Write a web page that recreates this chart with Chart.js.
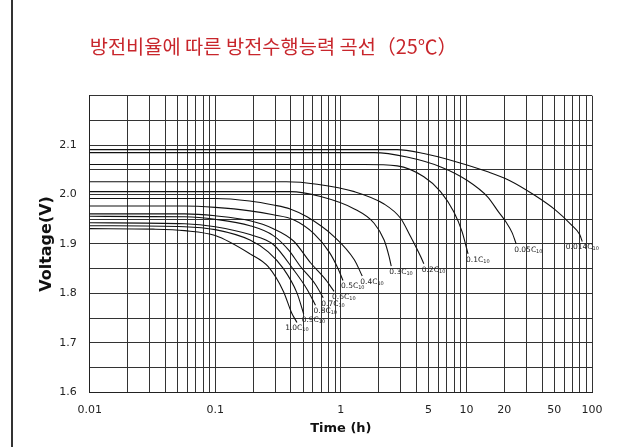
<!DOCTYPE html>
<html><head><meta charset="utf-8">
<script src="https://cdn.jsdelivr.net/npm/chart.js@4"></script>
<style>
html,body{margin:0;padding:0;background:#fff;width:626px;height:447px;overflow:hidden}
#wrap{position:relative;width:626px;height:447px}
#edge{position:absolute;left:11px;top:0;width:2px;height:447px;background:#333}
canvas{position:absolute;left:0;top:0}
</style></head>
<body><div id="wrap"><canvas id="c" width="626" height="447"></canvas><div id="edge"></div></div>
<script>
const chartTitle = '방전비율에 따른 방전수행능력 곡선（25℃）';
const xTitle = 'Time (h)';
const yTitle = 'Voltage(V)';

const xGridValues = [0.01,0.02,0.03,0.04,0.05,0.06,0.07,0.08,0.09,
  0.1,0.2,0.3,0.4,0.5,0.6,0.7,0.8,0.9,
  1,2,3,4,5,6,7,8,9,
  10,20,30,40,50,60,70,80,90,100];
const xLabelValues = [0.01, 0.1, 1, 5, 10, 20, 50, 100];
const yGridValues = [1.6,1.65,1.7,1.75,1.8,1.85,1.9,1.95,2.0,2.05,2.1,2.15,2.2];
const yLabelValues = [1.6,1.7,1.8,1.9,2.0,2.1];

const rates = ['0.014','0.05','0.1','0.2','0.3','0.4','0.5','0.6','0.7','0.8','0.9','1.0'];

const t_0014 = [0.01, 2.8, 4.58, 8.37, 14.8, 21.8, 34.7, 51.0, 68.2, 79.8, 83.7];
const v_0014 = [2.091, 2.091, 2.083, 2.066, 2.046, 2.029, 1.999, 1.969, 1.939, 1.919, 1.905];
const t_005 = [0.01, 1.84, 3.36, 6.25, 10.1, 14.8, 18.0, 20.6, 23.1, 24.9];
const v_005 = [2.085, 2.085, 2.076, 2.056, 2.029, 1.995, 1.965, 1.945, 1.923, 1.900];
const t_01 = [0.01, 1.53, 2.81, 4.58, 6.22, 7.93, 9.23, 10.3];
const v_01 = [2.061, 2.061, 2.058, 2.036, 2.006, 1.965, 1.925, 1.880];
const t_02 = [0.01, 0.369, 0.647, 1.28, 2.21, 2.99, 3.59, 4.31, 4.58];
const v_02 = [2.026, 2.026, 2.021, 2.006, 1.981, 1.952, 1.915, 1.875, 1.860];
const t_03 = [0.01, 0.395, 0.69, 1.28, 1.84, 2.21, 2.42, 2.52];
const v_03 = [2.006, 2.006, 1.996, 1.971, 1.942, 1.908, 1.875, 1.855];
const t_04 = [0.01, 0.1, 0.188, 0.29, 0.395, 0.538, 0.883, 1.28, 1.48];
const v_04 = [1.992, 1.992, 1.987, 1.979, 1.971, 1.955, 1.915, 1.868, 1.835];
const t_05 = [0.01, 0.057, 0.1, 0.189, 0.29, 0.42, 0.61, 0.806, 0.951, 1.04];
const v_05 = [1.977, 1.977, 1.974, 1.967, 1.959, 1.949, 1.921, 1.884, 1.850, 1.826];
const t_06 = [0.01, 0.057, 0.1, 0.189, 0.29, 0.42, 0.573, 0.757, 0.883];
const v_06 = [1.961, 1.961, 1.957, 1.947, 1.931, 1.906, 1.862, 1.828, 1.804];
const t_07 = [0.01, 0.057, 0.1, 0.189, 0.29, 0.383, 0.475, 0.628, 0.724];
const v_07 = [1.956, 1.955, 1.950, 1.937, 1.917, 1.888, 1.855, 1.818, 1.791];
const t_08 = [0.01, 0.057, 0.1, 0.189, 0.29, 0.42, 0.539, 0.628];
const v_08 = [1.943, 1.941, 1.935, 1.919, 1.899, 1.848, 1.808, 1.776];
const t_09 = [0.01, 0.057, 0.1, 0.189, 0.264, 0.349, 0.447, 0.506];
const v_09 = [1.937, 1.935, 1.929, 1.908, 1.884, 1.850, 1.801, 1.758];
const t_10 = [0.01, 0.032, 0.057, 0.1, 0.189, 0.264, 0.349, 0.405, 0.447];
const v_10 = [1.931, 1.930, 1.927, 1.917, 1.880, 1.854, 1.804, 1.761, 1.741];

const seriesTimes = [t_0014, t_005, t_01, t_02, t_03, t_04, t_05, t_06, t_07, t_08, t_09, t_10];
const seriesVolts = [v_0014, v_005, v_01, v_02, v_03, v_04, v_05, v_06, v_07, v_08, v_09, v_10];

const near = (arr, v) => arr.some(a => Math.abs(a - v) < 1e-9);

const endLabels = {
  id: 'endLabels',
  afterDatasetsDraw(chart) {
    const ctx = chart.ctx;
    ctx.save();
    ctx.fillStyle = '#222';
    ctx.textBaseline = 'middle';
    chart.data.datasets.forEach((ds, i) => {
      const meta = chart.getDatasetMeta(i);
      const p = meta.data[meta.data.length - 1];
      const main = ds.label + 'C';
      ctx.font = '7.5px "DejaVu Sans"';
      const w1 = ctx.measureText(main).width;
      ctx.font = '5px "DejaVu Sans"';
      const w2 = ctx.measureText('10').width;
      let x = ds.labelAlign === 'center' ? p.x - (w1 + w2) / 2 : p.x - 2;
      const y = p.y + 6;
      ctx.font = '7.5px "DejaVu Sans"';
      ctx.textAlign = 'left';
      ctx.fillText(main, x, y);
      ctx.font = '5px "DejaVu Sans"';
      ctx.fillText('10', x + w1, y + 1.5);
    });
    ctx.restore();
  }
};

const datasets = rates.map((r, i) => ({
  label: r,
  data: seriesTimes[i].map((t, j) => ({ x: t, y: seriesVolts[i][j] })),
  borderColor: '#111',
  borderWidth: 1.1,
  pointRadius: 0,
  fill: false,
  cubicInterpolationMode: 'monotone',
  labelAlign: (i === 0 || i === rates.length - 1) ? 'center' : 'left'
}));

new Chart(document.getElementById('c'), {
  type: 'line',
  data: { datasets },
  plugins: [endLabels],
  options: {
    responsive: false,
    animation: false,
    devicePixelRatio: 1,
    layout: { padding: { left: 37, right: 34, top: 0, bottom: 11 } },
    plugins: {
      legend: { display: false },
      tooltip: { enabled: false },
      title: {
        display: true, text: chartTitle, align: 'start', fullSize: false,
        color: '#c8262c',
        font: { family: '"Noto Sans CJK KR"', size: 19.8, weight: 'normal' },
        padding: { top: 35, bottom: 37 }
      }
    },
    scales: {
      x: {
        type: 'logarithmic', min: 0.01, max: 100,
        afterBuildTicks: s => { s.ticks = xGridValues.map(v => ({ value: v })); },
        ticks: {
          autoSkip: false, maxRotation: 0, minRotation: 0, padding: 11,
          color: '#222', font: { family: '"DejaVu Sans"', size: 11 },
          callback: v => near(xLabelValues, v) ? String(v) : ''
        },
        grid: { color: '#333', lineWidth: 1, drawTicks: false },
        border: { color: '#222', width: 1 },
        title: { display: true, text: xTitle, color: '#111',
          font: { family: '"DejaVu Sans"', size: 13, weight: 'bold' }, padding: { top: -7, bottom: 0 } }
      },
      y: {
        type: 'linear', min: 1.6, max: 2.2,
        afterBuildTicks: s => { s.ticks = yGridValues.map(v => ({ value: v })); },
        ticks: {
          autoSkip: false, padding: 13, color: '#222',
          font: { family: '"DejaVu Sans"', size: 11 },
          callback: v => near(yLabelValues, v) ? v.toFixed(1) : ''
        },
        grid: { color: '#333', lineWidth: 1, drawTicks: false },
        border: { color: '#222', width: 1 },
        title: { display: true, text: yTitle, color: '#111',
          font: { family: '"DejaVu Sans"', size: 16, weight: 'bold' }, padding: { top: 0, bottom: -10 } }
      }
    }
  }
});
</script>
</body></html>
